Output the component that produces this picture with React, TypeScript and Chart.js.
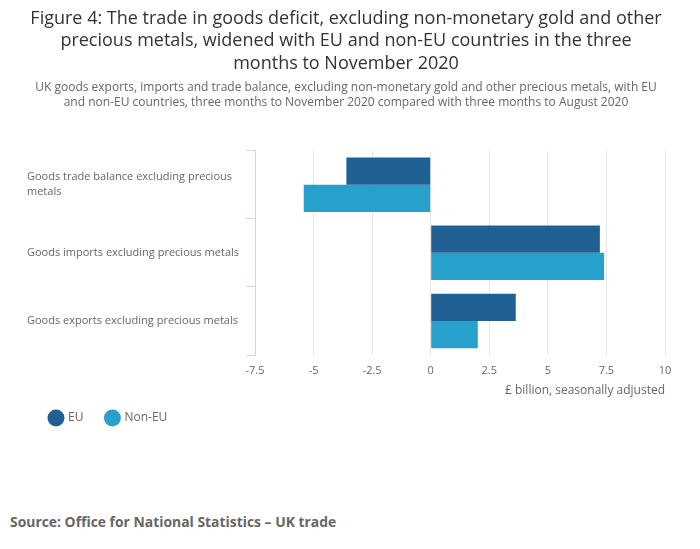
import { Chart, registerables } from 'chart.js';
import { useEffect, useRef } from 'react';

Chart.register(...registerables);

const titleLines = [
	'Figure 4: The trade in goods deficit, excluding non-monetary gold and other',
	'precious metals, widened with EU and non-EU countries in the three',
	'months to November 2020',
];
const subtitleLines = [
	'UK goods exports, imports and trade balance, excluding non-monetary gold and other precious metals, with EU',
	'and non-EU countries, three months to November 2020 compared with three months to August 2020',
];
const categories = [
	['Goods trade balance excluding precious', 'metals'],
	'Goods imports excluding precious metals',
	'Goods exports excluding precious metals',
];
const euValues = [-3.6, 7.22, 3.63];
const nonEuValues = [-5.42, 7.4, 2.01];
const xTicks = [-7.5, -5, -2.5, 0, 2.5, 5, 7.5, 10];
const xTickLabels = ['-7.5', '-5', '-2.5', '0', '2.5', '5', '7.5', '10'];
const xTitle = '£ billion, seasonally adjusted';
const sourceText = 'Source: Office for National Statistics – UK trade';

export default function App() {
	const chartRef = useRef<HTMLCanvasElement>(null);

	useEffect(() => {
		if (!chartRef.current) return;
		Chart.defaults.font.family = "'Open Sans', sans-serif";
		const chart = new Chart(chartRef.current, {
			type: 'bar',
			data: {
				labels: categories,
				datasets: [
					{ label: 'EU', data: euValues, backgroundColor: '#206095' },
					{ label: 'Non-EU', data: nonEuValues, backgroundColor: '#27a0cc' },
				],
			},
			options: {
				indexAxis: 'y',
				animation: false,
				responsive: true,
				maintainAspectRatio: false,
				layout: { padding: { left: 27, right: 35, top: 0, bottom: 0 } },
				datasets: { bar: { barPercentage: 1, categoryPercentage: 0.8 } },
				scales: {
					x: {
						min: -7.5,
						max: 10,
						afterBuildTicks: (scale) => {
							scale.ticks = xTicks.map((v) => ({ value: v }));
						},
						ticks: {
							color: '#666',
							font: { size: 11 },
							padding: 9,
							maxRotation: 0,
							callback: (_v, i) => xTickLabels[i],
						},
						grid: { color: '#e6e6e6', drawTicks: false },
						border: { display: false },
						title: {
							display: true,
							text: xTitle,
							align: 'end',
							color: '#666',
							font: { size: 12 },
							padding: { top: -2.4, bottom: -9.2 },
						},
					},
					y: {
						afterFit: (scale) => {
							scale.width = 228;
						},
						ticks: {
							color: '#666',
							font: { size: 11, lineHeight: 1.35 },
							crossAlign: 'far',
						},
						grid: {
							drawOnChartArea: false,
							drawTicks: true,
							tickLength: 9,
							color: '#ccd6eb',
						},
						border: { display: true, color: '#ccd6eb' },
					},
				},
				plugins: {
					title: {
						display: true,
						text: titleLines,
						color: '#333',
						font: { size: 18, weight: 'normal', lineHeight: 1.235 },
						padding: { top: 8, bottom: 0 },
					},
					subtitle: {
						display: true,
						text: subtitleLines,
						color: '#666',
						font: { size: 12, lineHeight: 1.25 },
						padding: { top: 5, bottom: 41 },
					},
					legend: {
						position: 'bottom',
						align: 'start',
						labels: {
							usePointStyle: true,
							pointStyle: 'circle',
							boxWidth: 12,
							boxHeight: 12,
							padding: 23,
							color: '#666',
							font: { size: 12 },
						},
					},
					tooltip: { enabled: false },
				},
			},
		});
		return () => chart.destroy();
	});

	return (
		<div style={{ position: 'absolute', left: 0, top: 0, width: 700, height: 549, background: '#fff' }}>
			<div style={{ position: 'relative', width: 700, height: 434 }}>
				<canvas ref={chartRef}></canvas>
			</div>
			<div
				style={{
					position: 'absolute',
					left: 10,
					top: 512,
					fontFamily: "'Open Sans', sans-serif",
					fontWeight: 'bold',
					fontSize: 13.9,
					color: '#666',
				}}
			>
				{sourceText}
			</div>
		</div>
	);
}
